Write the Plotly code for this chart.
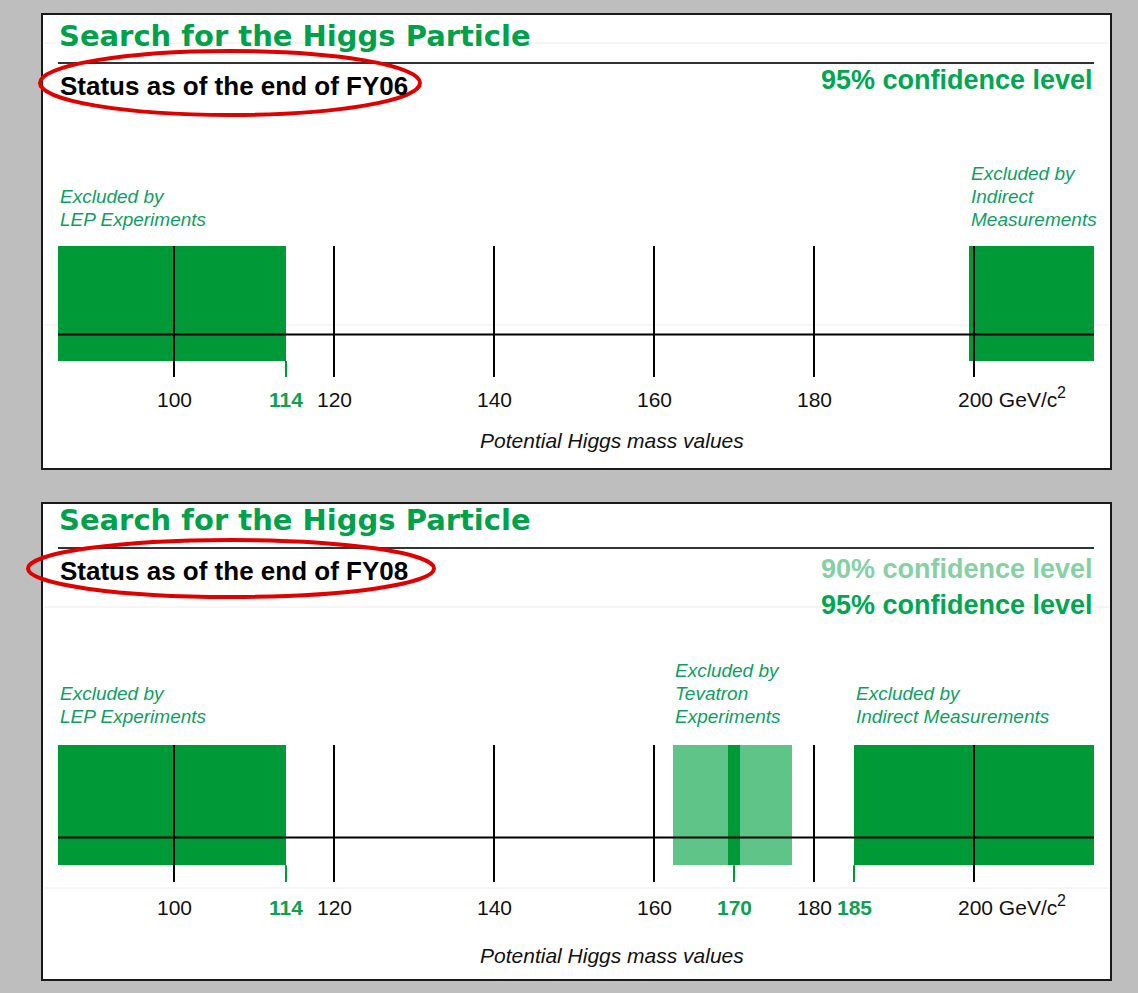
import plotly.graph_objects as go

W, H = 1138, 993

# Mass axis (GeV/c^2)
MASS_MIN, MASS_MAX = 85.5, 215.0
major_ticks = [100, 120, 140, 160, 180, 200]

# Excluded mass ranges, status FY06
fy06_lep = (MASS_MIN, 114.0)
fy06_indirect = (199.4, MASS_MAX)
fy06_limit_ticks = [114]

# Excluded mass ranges, status FY08
fy08_lep = (MASS_MIN, 114.0)
fy08_tevatron_90 = (162.4, 177.3)
fy08_tevatron_95 = (169.3, 170.7)
fy08_indirect = (185.0, MASS_MAX)
fy08_limit_ticks = [114, 170, 185]

TITLE = "Search for the Higgs Particle"
AXIS_TITLE = "Potential Higgs mass values"
UNIT = "GeV/c"

TITLE_GREEN = "#00a14b"
DARK_BAND = "#009937"
LIGHT_BAND = "#5ec488"
LABEL_GREEN = "#0f9e62"
CONF_DARK = "#00a650"
CONF_LIGHT = "#86d0a5"
TICK_GREEN = "#10a050"
RED = "#e00000"

SANS = "Liberation Sans, Arial, sans-serif"
WIDE = "DejaVu Sans, sans-serif"

# strip coordinates: 0 = bottom of tick lines, 1 = top of bands
BAND_BASE = 0.123
AXIS_LEVEL = 0.325


def fx(px):
    return px / W


def fy(py):
    return 1 - py / H


panels = [
    dict(
        xa="x", ya="y", box=(42, 14, 1111, 469), title_y=36, rule_y=63,
        status="Status as of the end of FY06", status_y=86,
        conf=[("95% confidence level", 80, CONF_DARK)],
        ellipse=(40, 51, 420, 115), strip=(246, 377), tick_y=399.5,
        axis_title_y=441, faint=[43, 325],
        bands=[(fy06_lep, DARK_BAND), (fy06_indirect, DARK_BAND)],
        labels=[(fy06_lep[0], ["Excluded by", "LEP Experiments"], 220),
                (fy06_indirect[0], ["Excluded by", "Indirect", "Measurements"], 220)],
        limits=fy06_limit_ticks,
    ),
    dict(
        xa="x2", ya="y2", box=(42, 503, 1111, 980), title_y=520, rule_y=548,
        status="Status as of the end of FY08", status_y=571,
        conf=[("90% confidence level", 569, CONF_LIGHT),
              ("95% confidence level", 605, CONF_DARK)],
        ellipse=(28, 540, 434, 597), strip=(745, 882), tick_y=907.5,
        axis_title_y=955, faint=[607, 888],
        bands=[(fy08_lep, DARK_BAND), (fy08_tevatron_90, LIGHT_BAND),
               (fy08_tevatron_95, DARK_BAND), (fy08_indirect, DARK_BAND)],
        labels=[(fy08_lep[0], ["Excluded by", "LEP Experiments"], 716),
                (fy08_tevatron_90[0], ["Excluded by", "Tevatron", "Experiments"], 716),
                (fy08_indirect[0], ["Excluded by", "Indirect Measurements"], 716)],
        limits=fy08_limit_ticks,
    ),
]

fig = go.Figure()
shapes = []
annotations = []

for p in panels:
    xa, ya = p["xa"], p["ya"]
    x0, y0, x1, y1 = p["box"]

    # white panel with black frame
    shapes.append(dict(type="rect", xref="paper", yref="paper",
                       x0=fx(x0), x1=fx(x1), y0=fy(y1), y1=fy(y0),
                       fillcolor="white", line=dict(color="#1a1a1a", width=2),
                       layer="below"))
    for fl in p["faint"]:
        shapes.append(dict(type="line", xref="paper", yref="paper",
                           x0=fx(x0 + 2), x1=fx(x1 - 2), y0=fy(fl), y1=fy(fl),
                           line=dict(color="#ececec", width=1), layer="below"))

    # title, rule and status line
    annotations.append(dict(text=f"<b>{TITLE}</b>", xref="paper", yref="paper",
                            x=fx(57), y=fy(p["title_y"]), xanchor="left", yanchor="middle",
                            showarrow=False,
                            font=dict(family=WIDE, size=29, color=TITLE_GREEN)))
    shapes.append(dict(type="line", xref="paper", yref="paper",
                       x0=fx(58), x1=fx(1094), y0=fy(p["rule_y"]), y1=fy(p["rule_y"]),
                       line=dict(color="#333333", width=2)))
    annotations.append(dict(text=f"<b>{p['status']}</b>", xref="paper", yref="paper",
                            x=fx(58), y=fy(p["status_y"]), xanchor="left", yanchor="middle",
                            showarrow=False, font=dict(family=SANS, size=26, color="black")))
    for txt, ty, col in p["conf"]:
        annotations.append(dict(text=f"<b>{txt}</b>", xref="paper", yref="paper",
                                x=fx(1095), y=fy(ty), xanchor="right", yanchor="middle",
                                showarrow=False, font=dict(family=SANS, size=27, color=col)))
    ex0, ey0, ex1, ey1 = p["ellipse"]
    shapes.append(dict(type="circle", xref="paper", yref="paper",
                       x0=fx(ex0), x1=fx(ex1), y0=fy(ey1), y1=fy(ey0),
                       line=dict(color=RED, width=4)))

    # excluded ranges
    for (lo, hi), col in p["bands"]:
        fig.add_trace(go.Bar(x=[hi - lo], base=[lo], y=[(BAND_BASE + 1) / 2],
                             width=[1 - BAND_BASE], orientation="h",
                             marker=dict(color=col, line=dict(width=0)),
                             xaxis=xa, yaxis=ya, showlegend=False, hoverinfo="skip"))

    # mass axis line and tick lines
    fig.add_trace(go.Scatter(x=[MASS_MIN, MASS_MAX], y=[AXIS_LEVEL, AXIS_LEVEL],
                             mode="lines", line=dict(color="black", width=2),
                             xaxis=xa, yaxis=ya, showlegend=False, hoverinfo="skip"))
    vx, vy = [], []
    for t in major_ticks:
        vx += [t, t, None]
        vy += [0, 1, None]
    fig.add_trace(go.Scatter(x=vx, y=vy, mode="lines", line=dict(color="black", width=2),
                             xaxis=xa, yaxis=ya, showlegend=False, hoverinfo="skip"))
    gx, gy = [], []
    for t in p["limits"]:
        gx += [t, t, None]
        gy += [0, BAND_BASE, None]
    fig.add_trace(go.Scatter(x=gx, y=gy, mode="lines", line=dict(color=DARK_BAND, width=2),
                             xaxis=xa, yaxis=ya, showlegend=False, hoverinfo="skip"))

    # tick labels
    tick_font = dict(family=SANS, size=21, color="#111111")
    for t in major_ticks:
        if t == major_ticks[-1]:
            annotations.append(dict(text=f"{t} {UNIT}", xref=xa, yref="paper",
                                    x=t, xshift=-18, y=fy(p["tick_y"]), xanchor="left",
                                    yanchor="middle", showarrow=False, font=tick_font))
            annotations.append(dict(text="2", xref=xa, yref="paper",
                                    x=t, xshift=81, y=fy(p["tick_y"] - 7), xanchor="left",
                                    yanchor="middle", showarrow=False,
                                    font=dict(family=SANS, size=16, color="#111111")))
        else:
            annotations.append(dict(text=str(t), xref=xa, yref="paper", x=t,
                                    y=fy(p["tick_y"]), xanchor="center", yanchor="middle",
                                    showarrow=False, font=tick_font))
    for t in p["limits"]:
        annotations.append(dict(text=f"<b>{t}</b>", xref=xa, yref="paper", x=t,
                                y=fy(p["tick_y"]), xanchor="center", yanchor="middle",
                                showarrow=False,
                                font=dict(family=SANS, size=21, color=TICK_GREEN)))

    # range captions
    for lx, lines, last_y in p["labels"]:
        n = len(lines)
        for i, line in enumerate(lines):
            ly = last_y - 23 * (n - 1 - i)
            annotations.append(dict(text=f"<i>{line}</i>", xref=xa, yref="paper", x=lx,
                                    y=fy(ly), xanchor="left", yanchor="middle",
                                    showarrow=False,
                                    font=dict(family=SANS, size=19, color=LABEL_GREEN)))

    annotations.append(dict(text=f"<i>{AXIS_TITLE}</i>", xref="paper", yref="paper",
                            x=fx(612), y=fy(p["axis_title_y"]), xanchor="center",
                            yanchor="middle", showarrow=False,
                            font=dict(family=SANS, size=21, color="#111111")))

    s_top, s_bot = p["strip"]
    axis_common = dict(visible=False, fixedrange=True)
    fig.layout[("xaxis" if xa == "x" else "xaxis2")] = dict(
        domain=[fx(58), fx(1094)], range=[MASS_MIN, MASS_MAX],
        anchor=ya, **axis_common)
    fig.layout[("yaxis" if ya == "y" else "yaxis2")] = dict(
        domain=[fy(s_bot), fy(s_top)], range=[0, 1], anchor=xa, **axis_common)

fig.update_layout(
    width=W, height=H, margin=dict(l=0, r=0, t=0, b=0),
    paper_bgcolor="#bebebe", plot_bgcolor="rgba(0,0,0,0)",
    barmode="overlay", bargap=0, shapes=shapes, annotations=annotations,
    showlegend=False,
)

fig.write_html("out.html", config={"displayModeBar": False})
